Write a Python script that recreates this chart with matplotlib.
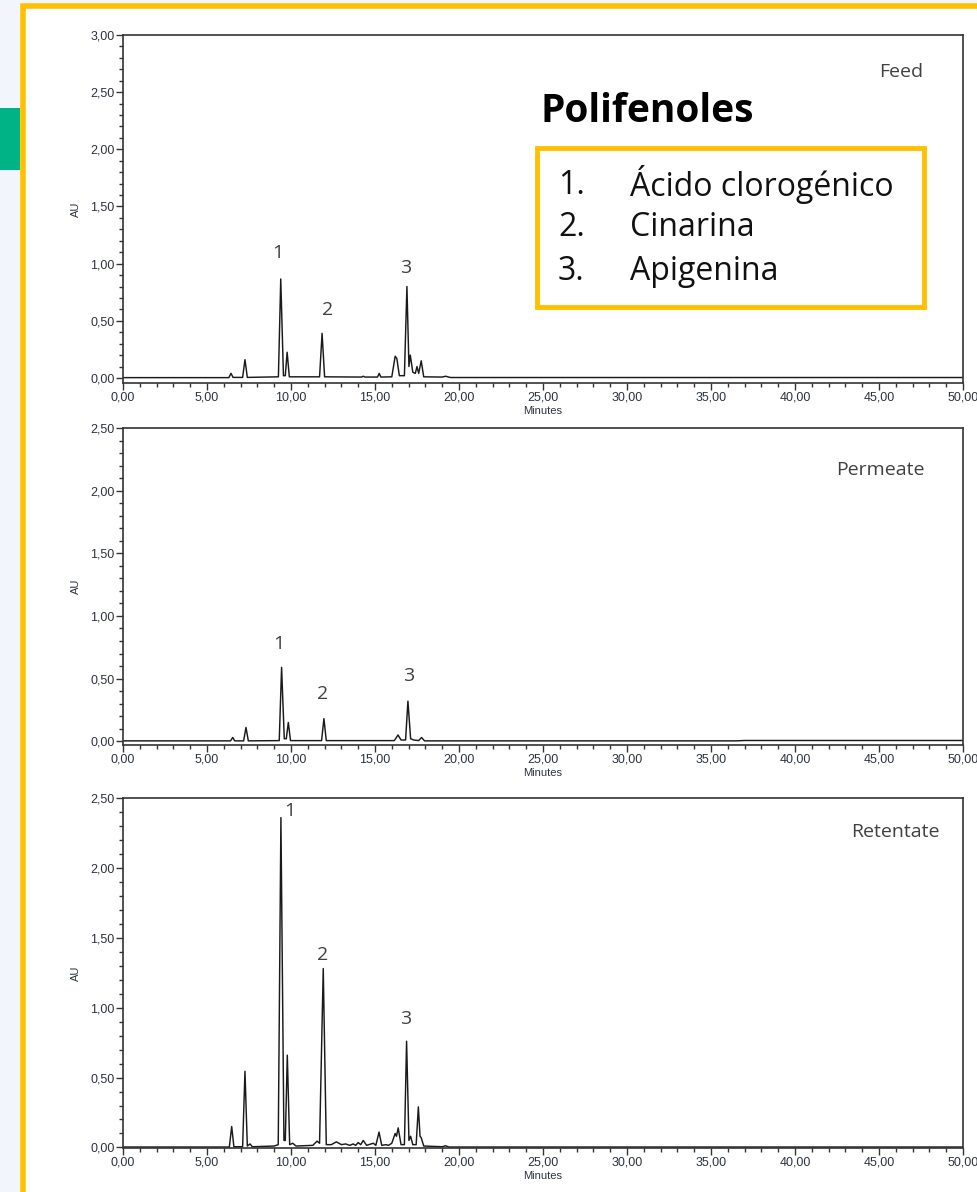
import matplotlib
matplotlib.use('Agg')
from matplotlib import pyplot as plt
from matplotlib.patches import Rectangle
from matplotlib.ticker import MultipleLocator, FuncFormatter

# --- data (minutes, AU) ---

feed_t = [0.0, 5.0, 6.3, 6.43, 6.55, 7.12, 7.26, 7.4, 9.25, 9.39, 9.55, 9.66, 9.77, 9.9,
          11.7, 11.85, 12.0, 14.2, 14.3, 14.4, 15.15, 15.25, 15.35, 16.0, 16.2, 16.3, 16.45,
          16.75, 16.9, 17.02, 17.1, 17.25, 17.4, 17.5, 17.6, 17.75, 17.9, 19.0, 19.2, 19.5, 50.0]
feed_au = [0.003, 0.003, 0.003, 0.04, 0.005, 0.005, 0.16, 0.005, 0.01, 0.866, 0.02, 0.02, 0.225, 0.01,
           0.01, 0.39, 0.01, 0.008, 0.015, 0.008, 0.008, 0.04, 0.008, 0.01, 0.19, 0.17, 0.02,
           0.02, 0.80, 0.10, 0.20, 0.05, 0.04, 0.10, 0.04, 0.15, 0.01, 0.008, 0.015, 0.004, 0.004]

perm_t = [0.0, 6.4, 6.53, 6.65, 7.18, 7.32, 7.46, 9.3, 9.44, 9.6, 9.72, 9.84, 9.97,
          11.82, 11.96, 12.1, 16.15, 16.37, 16.55, 16.82, 16.96, 17.12, 17.3, 17.6, 17.77, 17.95,
          36.5, 37.0, 50.0]
perm_au = [0.003, 0.003, 0.03, 0.003, 0.003, 0.11, 0.003, 0.005, 0.59, 0.02, 0.02, 0.15, 0.005,
           0.005, 0.18, 0.005, 0.005, 0.05, 0.01, 0.01, 0.32, 0.02, 0.01, 0.005, 0.03, 0.003,
           0.003, 0.006, 0.006]

ret_t = [0.0, 6.33, 6.47, 6.6, 7.12, 7.26, 7.4, 7.56, 7.7, 9.0, 9.24, 9.4, 9.58, 9.66, 9.78, 9.92,
         10.1, 10.3, 11.3, 11.55, 11.7, 11.92, 12.1, 12.4, 12.7, 13.0, 13.25, 13.5, 13.7, 13.85,
         14.0, 14.15, 14.3, 14.5, 14.9, 15.05, 15.24, 15.4, 15.65, 15.8, 16.0, 16.2, 16.28, 16.38,
         16.55, 16.75, 16.88, 17.02, 17.12, 17.25, 17.45, 17.58, 17.68, 17.75, 17.9, 19.0, 19.2,
         19.4, 50.0]
ret_au = [0.003, 0.003, 0.15, 0.005, 0.005, 0.545, 0.01, 0.025, 0.005, 0.01, 0.02, 2.36, 0.05, 0.05, 0.66, 0.02,
          0.03, 0.01, 0.015, 0.045, 0.03, 1.28, 0.02, 0.02, 0.04, 0.02, 0.025, 0.015, 0.025, 0.015,
          0.035, 0.02, 0.05, 0.015, 0.03, 0.015, 0.11, 0.015, 0.02, 0.015, 0.03, 0.10, 0.08, 0.14,
          0.02, 0.02, 0.76, 0.05, 0.08, 0.02, 0.02, 0.29, 0.08, 0.07, 0.01, 0.005, 0.012,
          0.003, 0.003]

panel_names = ['Feed', 'Permeate', 'Retentate']
y_max = [3.0, 2.5, 2.5]

# peak number label positions (minutes, AU)
label_x = [[9.23, 12.2, 16.85], [9.29, 11.9, 17.02], [9.95, 11.9, 16.85]]
label_y = [[1.09, 0.595, 0.96], [0.78, 0.375, 0.52], [2.41, 1.375, 0.917]]

compounds = ['Ácido clorogénico', 'Cinarina', 'Apigenina']

# --- layout (pixels of the 977x1192 slide) ---
W, H = 977, 1192
AX_LEFT, AX_RIGHT = 123, 963
AX_TOPS = [35, 428, 798]
AX_BOTS = [383, 745, 1148]
Y_MIN = [-0.044, -0.03, -0.004]
NAME_POS = [(923, 72), (925, 470), (940, 832)]

YELLOW = '#ffc000'
TICK_COL = '#2b3340'
TXT_COL = '#404040'
FONT = 'Open Sans'


def fmt(v, pos):
    return ('%.2f' % v).replace('.', ',')


fig = plt.figure(figsize=(W / 100, H / 100), dpi=100, facecolor='#f2f6fc')

# slide frame
fig.patches.append(Rectangle((22.5 / W, -0.02), 1.1, 1 - 5.5 / H + 0.02, transform=fig.transFigure,
                             facecolor='white', edgecolor=YELLOW, lw=4.0, zorder=-2))
fig.patches.append(Rectangle((0, 1 - 170 / H), 19.5 / W, 62 / H, transform=fig.transFigure,
                             facecolor='#00b386', edgecolor='none', zorder=-1))

traces = [(feed_t, feed_au), (perm_t, perm_au), (ret_t, ret_au)]

for i in range(3):
    bottom = 1 - AX_BOTS[i] / H
    height = (AX_BOTS[i] - AX_TOPS[i]) / H
    ax = fig.add_axes([AX_LEFT / W, bottom, (AX_RIGHT - AX_LEFT) / W, height])
    t, au = traces[i]
    ax.plot(t, au, color='#1a1a1a', lw=1.05)

    ax.set_xlim(0, 50)
    ax.set_ylim(Y_MIN[i], y_max[i])
    ax.xaxis.set_major_locator(MultipleLocator(5))
    ax.xaxis.set_minor_locator(MultipleLocator(1))
    ax.yaxis.set_major_locator(MultipleLocator(0.5))
    ax.yaxis.set_minor_locator(MultipleLocator(0.1))
    ax.xaxis.set_major_formatter(FuncFormatter(fmt))
    ax.yaxis.set_major_formatter(FuncFormatter(fmt))
    ax.tick_params(which='major', direction='out', length=5, width=1, color='#333333',
                   labelsize=9, labelcolor=TICK_COL, pad=1)
    ax.tick_params(which='minor', direction='out', length=3, width=1, color='#333333')
    for lab in ax.get_xticklabels() + ax.get_yticklabels():
        lab.set_family('Liberation Sans')
    for sp in ax.spines.values():
        sp.set_color('#333333')
        sp.set_linewidth(1.2)

    ax.set_xlabel('Minutes', fontsize=8, color=TICK_COL, family='Liberation Sans', labelpad=2)
    ax.set_ylabel('AU', fontsize=8, color=TICK_COL, family='Liberation Sans', labelpad=7)

    nx, ny = NAME_POS[i]
    ax.text((nx - AX_LEFT) / (AX_RIGHT - AX_LEFT), (AX_BOTS[i] - ny) / (AX_BOTS[i] - AX_TOPS[i]),
            panel_names[i], transform=ax.transAxes, ha='right', va='center',
            fontsize=14, color=TXT_COL, family=FONT)

    for k in range(3):
        ax.text(label_x[i][k], label_y[i][k], str(k + 1), ha='center', va='center',
                fontsize=14, color=TXT_COL, family=FONT)

# compound legend
fig.text(541 / W, 1 - 112 / H, 'Polifenoles', ha='left', va='center', fontsize=28,
         fontweight='bold', color='black', family=FONT)
fig.patches.append(Rectangle((537 / W, 1 - 307 / H), 387 / W, 159 / H, transform=fig.transFigure,
                             facecolor='white', edgecolor=YELLOW, lw=3.5, zorder=5))
for k, name in enumerate(compounds):
    yy = 1 - (185 + 43 * k) / H
    fig.text(558 / W, yy, '%d.' % (k + 1), ha='left', va='center', fontsize=23,
             color='#111111', family=FONT, zorder=6)
    fig.text(630 / W, yy, name, ha='left', va='center', fontsize=23,
             color='#111111', family=FONT, zorder=6)

plt.savefig('out.png', dpi=100, facecolor=fig.get_facecolor())
plt.close(fig)
